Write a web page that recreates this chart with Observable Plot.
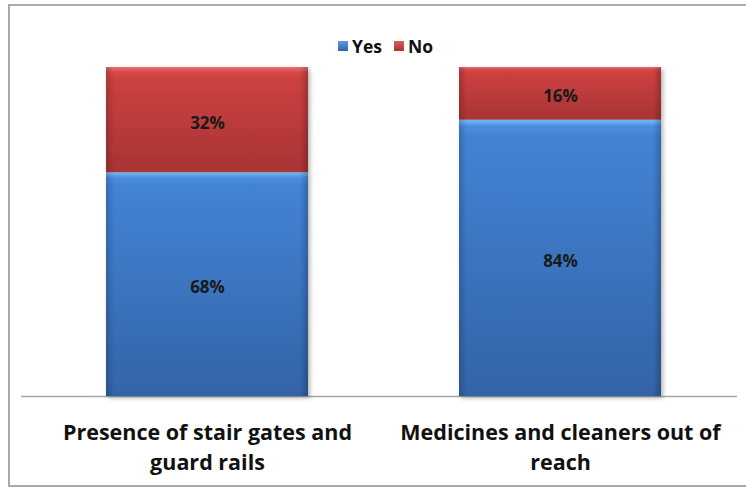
<!DOCTYPE html>
<html>
<head>
<meta charset="utf-8">
<script src="https://cdn.jsdelivr.net/npm/d3@7"></script>
<script src="https://cdn.jsdelivr.net/npm/@observablehq/plot@0.6"></script>
<style>
  body { margin: 0; background: #fff; }
  #wrap { position: relative; width: 746px; height: 487px; overflow: hidden; font-family: "Open Sans", sans-serif; }
  #frame { position: absolute; left: 8px; top: 4px; width: 780px; height: 479px; border: 2px solid #a9a9a9; box-sizing: content-box; pointer-events: none; }
  #chart { position: absolute; left: 0; top: 0; }
  #legend { position: absolute; left: 338px; top: 35px; display: flex; align-items: center; font-weight: bold; font-size: 17.5px; color: #111; line-height: 22px; }
  .sw { width: 10px; height: 10px; display: inline-block; margin-right: 4px; }
  .item { display: flex; align-items: center; margin-right: 12px; }
</style>
</head>
<body>
<div id="wrap">
  <div id="chart"></div>
  <div id="legend"></div>
  <div id="frame"></div>
</div>
<script>
// Survey answers per safety measure
const categories = ["Presence of stair gates and guard rails", "Medicines and cleaners out of reach"];
const tickLabels = ["Presence of stair gates and\nguard rails", "Medicines and cleaners out of\nreach"];
const series = ["Yes", "No"];
const yesValues = [68, 84];
const noValues = [32, 16];

const seriesFill = ["url(#gradYes)", "url(#gradNo)"];
const swatchCss = ["linear-gradient(#5d9be6, #2f64a8)", "linear-gradient(#e05a5a, #a93232)"];

const data = categories.flatMap((c, i) => [
  {category: c, answer: "Yes", value: yesValues[i]},
  {category: c, answer: "No", value: noValues[i]}
]);

const chart = Plot.plot({
  width: 746,
  height: 487,
  marginTop: 67,
  marginBottom: 91,
  marginLeft: 105,
  marginRight: 85,
  x: {domain: categories, paddingInner: 0.4286, paddingOuter: 0, axis: null},
  y: {domain: [0, 100], axis: null},
  color: {domain: series, range: seriesFill},
  marks: [
    Plot.ruleY([0], {stroke: "#a6a6a6", strokeWidth: 1.5, insetLeft: -84, insetRight: -76}),
    Plot.barY(data, {x: "category", y: "value", fill: "answer"}),
    Plot.barY(data, {x: "category", y: "value", fill: "url(#edges)"}),
    Plot.text(data, Plot.stackY({
      x: "category", y: "value", z: "answer",
      text: d => `${d.value}%`,
      fontSize: 17, fontWeight: "bold", fill: "#1a1a1a", dy: 3,
      fontFamily: "'Open Sans', sans-serif"
    })),
    Plot.text(categories, {
      x: d => d,
      frameAnchor: "bottom",
      lineAnchor: "top",
      dy: 22,
      text: (d, i) => tickLabels[i],
      lineHeight: 1.4,
      fontSize: 21.5,
      fontWeight: "bold",
      fill: "#111",
      fontFamily: "'Open Sans', sans-serif"
    })
  ]
});

// Bevel-style gradients and a soft shadow for the bars
const svg = d3.select(chart);
const defs = svg.insert("defs", ":first-child");
function vGrad(id, stops) {
  const g = defs.append("linearGradient").attr("id", id).attr("x1", 0).attr("y1", 0).attr("x2", 0).attr("y2", 1);
  stops.forEach(([o, c]) => g.append("stop").attr("offset", o).attr("stop-color", c));
}
vGrad("gradYes", [["0", "#7ab8f7"], ["0.025", "#4a8ddd"], ["0.06", "#4283d6"], ["1", "#3364a6"]]);
vGrad("gradNo", [["0", "#ee7070"], ["0.05", "#d54848"], ["0.12", "#cc4040"], ["1", "#a83434"]]);
const edges = defs.append("linearGradient").attr("id", "edges").attr("x1", 0).attr("y1", 0).attr("x2", 1).attr("y2", 0);
[["0", "#000", 0.18], ["0.04", "#000", 0.0], ["0.96", "#000", 0.0], ["1", "#000", 0.22]].forEach(([o, c, a]) =>
  edges.append("stop").attr("offset", o).attr("stop-color", c).attr("stop-opacity", a));
const f = defs.append("filter").attr("id", "shadow").attr("x", "-10%").attr("y", "-10%").attr("width", "130%").attr("height", "130%");
f.append("feDropShadow").attr("dx", 2).attr("dy", 2).attr("stdDeviation", 2).attr("flood-color", "#000").attr("flood-opacity", 0.3);
svg.selectAll("g[aria-label=bar]").filter((d, i) => i === 0).attr("filter", "url(#shadow)");

document.getElementById("chart").appendChild(chart);

// Legend
const legend = d3.select("#legend");
series.forEach((s, i) => {
  const item = legend.append("div").attr("class", "item");
  item.append("span").attr("class", "sw").style("background", swatchCss[i]);
  item.append("span").text(s);
});
</script>
</body>
</html>
